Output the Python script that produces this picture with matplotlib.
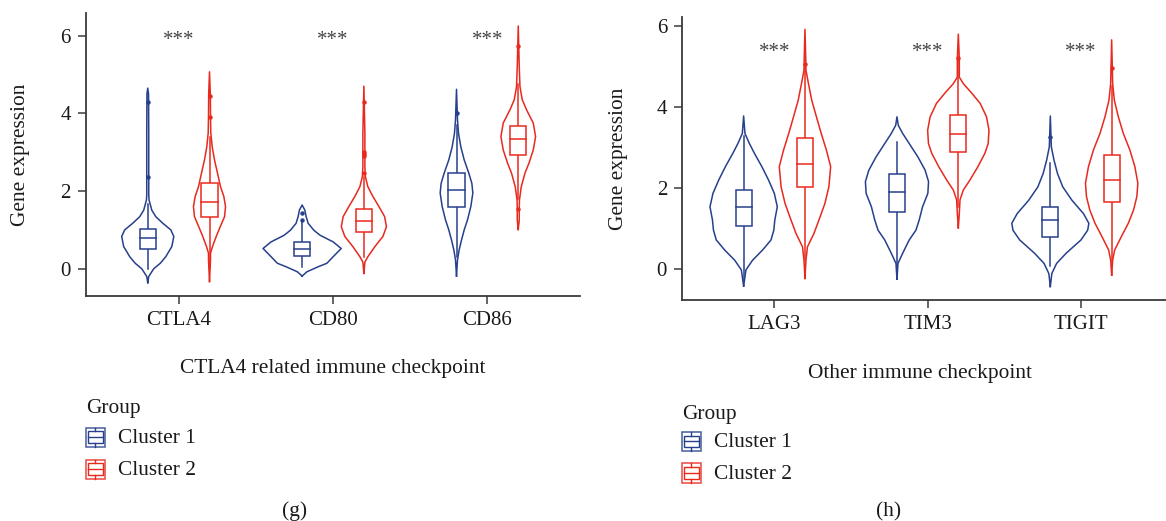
import numpy as np
import matplotlib
matplotlib.use("Agg")
import matplotlib.pyplot as plt
from matplotlib.patches import Rectangle
from matplotlib.lines import Line2D

plt.rcParams['font.family'] = ['Liberation Serif', 'DejaVu Serif']

# ---- data ----
groups = ['Cluster 1', 'Cluster 2']
genes_g = ['CTLA4', 'CD80', 'CD86']
genes_h = ['LAG3', 'TIM3', 'TIGIT']

# violin outlines: expression value and density (half width, arbitrary units)
ctla4_c1_y = [-0.36, -0.20, 0.0, 0.14, 0.31, 0.57, 0.83, 1.0, 1.17, 1.34, 1.51, 1.77, 1.9, 2.5, 3.5, 4.5, 4.65]
ctla4_c1_d = [0, 1, 6, 12.5, 18, 24, 26, 23, 15, 8, 4, 1.3, 1, 1, 1, 0.8, 0]
ctla4_c2_y = [-0.33, 0.23, 0.40, 0.57, 0.83, 1.08, 1.34, 1.6, 1.86, 2.11, 2.46, 2.80, 3.14, 3.49, 3.92, 4.5, 5.07]
ctla4_c2_d = [0, 1, 1, 3, 6.7, 10.7, 15, 16, 14.3, 11, 8, 5, 2.7, 1.3, 1, 0.8, 0]
cd80_c1_y = [-0.19, -0.08, 0.05, 0.14, 0.31, 0.52, 0.69, 0.86, 0.99, 1.17, 1.34, 1.51, 1.64]
cd80_c1_d = [0, 4.7, 16, 24.7, 31, 39, 31, 18, 11.7, 6, 4, 2.7, 0]
cd80_c2_y = [-0.12, 0.17, 0.31, 0.57, 0.83, 1.08, 1.34, 1.6, 1.86, 2.11, 2.37, 2.63, 3.5, 4.70]
cd80_c2_d = [0, 1, 4, 11, 19, 22.5, 20.7, 15, 9, 4, 1.5, 1, 1, 0]
cd86_c1_y = [-0.19, 0.23, 0.49, 0.74, 1.0, 1.26, 1.6, 1.95, 2.2, 2.46, 2.8, 3.14, 3.49, 3.83, 4.62]
cd86_c1_d = [0, 1, 2.7, 5, 7.7, 11, 14.3, 16.3, 15.3, 12.3, 7.7, 4.3, 2, 1, 0]
cd86_c2_y = [1.01, 1.26, 1.56, 1.77, 2.11, 2.46, 2.72, 3.06, 3.40, 3.75, 4.09, 4.35, 4.69, 5.20, 6.25]
cd86_c2_d = [0, 1, 1, 1.2, 3, 6.7, 10.7, 15, 17.3, 15, 8.3, 4, 1.7, 1, 0]

lag3_c1_y = [-0.43, -0.03, 0.21, 0.46, 0.71, 0.95, 1.20, 1.53, 1.86, 2.19, 2.52, 2.85, 3.09, 3.34, 3.77]
lag3_c1_d = [0, 2.3, 9, 19, 27.5, 30.3, 31.3, 33.8, 30.8, 25, 18.3, 10.8, 5.8, 1.3, 0]
lag3_c2_y = [-0.24, 0.21, 0.54, 0.87, 1.20, 1.61, 2.02, 2.52, 2.93, 3.34, 3.75, 4.16, 4.57, 4.9, 5.16, 5.91]
lag3_c2_d = [0, 1, 2.5, 9, 14, 20, 24, 25.8, 21.5, 16.3, 11.5, 6.8, 3.5, 1, 0.8, 0]
tim3_c1_y = [-0.26, 0.13, 0.38, 0.71, 0.95, 1.20, 1.53, 1.86, 2.15, 2.43, 2.76, 3.09, 3.34, 3.54, 3.75]
tim3_c1_d = [0, 1, 5.7, 12.3, 19, 22.3, 25.7, 31, 31.7, 28.3, 21, 12.3, 5.7, 1.3, 0]
tim3_c2_y = [1.01, 1.37, 1.70, 1.94, 2.19, 2.52, 2.85, 3.09, 3.42, 3.75, 4.08, 4.32, 4.57, 4.73, 5.19, 5.79]
tim3_c2_d = [0, 1, 1.7, 5, 11.7, 19.7, 26.7, 30, 30.8, 28.3, 22, 14, 5, 1, 1, 0]
tigit_c1_y = [-0.44, -0.12, 0.13, 0.38, 0.71, 0.95, 1.12, 1.36, 1.69, 2.02, 2.35, 2.68, 3.01, 3.77]
tigit_c1_d = [0, 1.5, 6.3, 15.8, 30.8, 37.5, 38.7, 33.3, 21.7, 12.5, 7.2, 3.7, 1, 0]
tigit_c2_y = [-0.16, 0.21, 0.46, 0.79, 1.12, 1.45, 1.78, 2.11, 2.52, 2.93, 3.34, 3.75, 4.16, 4.57, 5.65]
tigit_c2_d = [0, 1, 3, 9.7, 16.7, 22, 25.3, 26.3, 23.3, 18.3, 11.7, 6.7, 2.7, 1, 0]

# box stats per gene: q1, median, q3, lower whisker, upper whisker
g_c1_box = [(0.52, 0.80, 1.03, 0.0, 1.67), (0.33, 0.52, 0.68, 0.05, 1.20), (1.58, 2.03, 2.46, 0.3, 3.7)]
g_c2_box = [(1.32, 1.71, 2.20, 0.05, 3.4), (0.94, 1.22, 1.53, 0.3, 2.35), (2.92, 3.35, 3.68, 1.8, 4.75)]
h_c1_box = [(1.05, 1.52, 1.94, -0.28, 3.28), (1.41, 1.90, 2.33, 0.05, 3.14), (0.79, 1.19, 1.53, 0.07, 2.6)]
h_c2_box = [(2.02, 2.59, 3.23, 0.2, 5.0), (2.89, 3.33, 3.80, 1.52, 5.15), (1.65, 2.18, 2.80, 0.2, 4.5)]

g_c1_out = [[2.35, 4.30], [1.25, 1.43], [4.02]]
g_c2_out = [[3.90, 4.45], [2.46, 2.89, 2.95, 3.0, 4.30], [1.54, 5.74]]
h_c1_out = [[], [], [3.26]]
h_c2_out = [[5.05], [5.21], [4.95]]

sig_g = ['***', '***', '***']
sig_h = ['***', '***', '***']

# ---- style ----
BLUE = '#27408B'
RED = '#E8291E'
colors = [BLUE, RED]
WSCALE = 1 / 154.0
BOXW = 0.052
DODGE = 0.2
W, H = 1166, 521
TXT = '#1a1a1a'
FS_TICK = 15
FS = 15.4


def draw_violin(ax, x, ys, ds, color):
    ys = np.asarray(ys)
    ws = np.asarray(ds) * WSCALE
    xs = np.concatenate([x + ws, (x - ws)[::-1]])
    yy = np.concatenate([ys, ys[::-1]])
    ax.plot(xs, yy, color=color, lw=1.1, solid_joinstyle='round', zorder=2)


def draw_box(ax, x, stats, outs, color):
    q1, med, q3, lo, hi = stats
    ax.plot([x, x], [lo, q1], color=color, lw=1.1, zorder=2)
    ax.plot([x, x], [q3, hi], color=color, lw=1.1, zorder=2)
    ax.add_patch(Rectangle((x - BOXW, q1), 2 * BOXW, q3 - q1, fc='white', ec=color, lw=1.1, zorder=3))
    ax.plot([x - BOXW, x + BOXW], [med, med], color=color, lw=1.1, zorder=4)
    if outs:
        ax.plot([x] * len(outs), outs, 'o', color=color, ms=3.2, mew=0, zorder=4)


def style_axes(ax, genes, ylim):
    ax.set_xlim(-0.6, 2.6)
    ax.set_ylim(*ylim)
    ax.set_xticks(range(len(genes)))
    ax.set_xticklabels(genes)
    ax.set_yticks([0, 2, 4, 6])
    for s in ['top', 'right']:
        ax.spines[s].set_visible(False)
    for s in ['left', 'bottom']:
        ax.spines[s].set_color('#3a3a3a')
        ax.spines[s].set_linewidth(1.3)
    ax.tick_params(length=6, width=1.1, color='#3a3a3a', labelsize=FS_TICK, labelcolor=TXT, pad=5)


def px(x, y):
    return x / W, 1 - y / H


def draw_key(fig, x0, y0, size, color):
    fx, fy = px(x0, y0 + size)
    fw, fh = size / W, size / H
    tf = fig.transFigure
    fig.add_artist(Rectangle((fx, fy), fw, fh, fc='white', ec=color, lw=1.1, alpha=0.85, transform=tf))
    cx = fx + fw / 2
    fig.add_artist(Line2D([cx, cx], [fy, fy + fh * 0.2], color=color, lw=1.0, transform=tf))
    fig.add_artist(Line2D([cx, cx], [fy + fh * 0.8, fy + fh], color=color, lw=1.0, transform=tf))
    fig.add_artist(Rectangle((fx + fw * 0.12, fy + fh * 0.2), fw * 0.76, fh * 0.6, fc='none', ec=color, lw=1.0, transform=tf))
    fig.add_artist(Line2D([fx + fw * 0.12, fx + fw * 0.88], [fy + fh * 0.5, fy + fh * 0.5], color=color, lw=1.0, transform=tf))


fig = plt.figure(figsize=(W / 100, H / 100), dpi=100)
axg = fig.add_axes([86 / W, (H - 296) / H, 494 / W, (296 - 13.3) / H])
axh = fig.add_axes([682.3 / W, (H - 300) / H, 490.7 / W, (300 - 17.3) / H])

g_violins = [[(ctla4_c1_y, ctla4_c1_d), (ctla4_c2_y, ctla4_c2_d)],
             [(cd80_c1_y, cd80_c1_d), (cd80_c2_y, cd80_c2_d)],
             [(cd86_c1_y, cd86_c1_d), (cd86_c2_y, cd86_c2_d)]]
h_violins = [[(lag3_c1_y, lag3_c1_d), (lag3_c2_y, lag3_c2_d)],
             [(tim3_c1_y, tim3_c1_d), (tim3_c2_y, tim3_c2_d)],
             [(tigit_c1_y, tigit_c1_d), (tigit_c2_y, tigit_c2_d)]]

panels = [
    (axg, genes_g, g_violins, [g_c1_box, g_c2_box], [g_c1_out, g_c2_out], sig_g, 6.0, (-0.703, 6.577)),
    (axh, genes_h, h_violins, [h_c1_box, h_c2_box], [h_c1_out, h_c2_out], sig_h, 5.46, (-0.773, 6.207)),
]

for ax, genes, violins, boxes, outs, sig, sig_y, ylim in panels:
    for i in range(len(genes)):
        for k in range(2):
            x = i + (k - 0.5) * 2 * DODGE
            ys, ds = violins[i][k]
            draw_violin(ax, x, ys, ds, colors[k])
            draw_box(ax, x, boxes[k][i], outs[k][i], colors[k])
        ax.annotate(sig[i], (i, sig_y), xytext=(0, -7), textcoords='offset points',
                    ha='center', va='baseline', fontsize=FS_TICK, color='#444444')
    style_axes(ax, genes, ylim)

# axis titles
fig.text(*px(20.5, 154.7), 'Gene expression', rotation=90, ha='center', va='center', fontsize=FS, color=TXT)
fig.text(*px(618.3, 158.7), 'Gene expression', rotation=90, ha='center', va='center', fontsize=FS, color=TXT)
fig.text(*px(333, 373.3), 'CTLA4 related immune checkpoint', ha='center', va='baseline', fontsize=FS, color=TXT)
fig.text(*px(920, 378.3), 'Other immune checkpoint', ha='center', va='baseline', fontsize=FS, color=TXT)

# legends
for lx, gy, ky, ty in [(85.7, 413.3, [427.5, 459.5], [443.3, 475]),
                       (681.7, 419.3, [431.7, 463.3], [446.7, 479.3])]:
    fig.text(*px(lx, gy), 'Group', ha='left', va='baseline', fontsize=FS, color=TXT)
    for k in range(2):
        draw_key(fig, lx, ky[k], 19.5, colors[k])
        fig.text(*px(lx + 32, ty[k]), groups[k], ha='left', va='baseline', fontsize=FS, color=TXT)

fig.text(*px(295, 516), '(g)', ha='center', va='baseline', fontsize=FS, color=TXT)
fig.text(*px(889, 516), '(h)', ha='center', va='baseline', fontsize=FS, color=TXT)

fig.savefig('out.png', dpi=100)
